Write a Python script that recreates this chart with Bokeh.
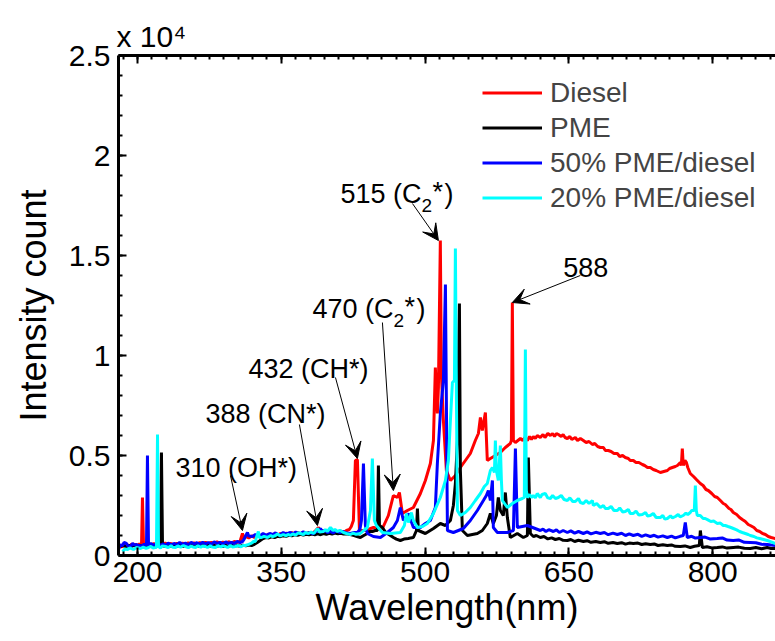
from bokeh.plotting import figure
from bokeh.models import (Range1d, FixedTicker, LinearAxis, CustomJSTickFormatter,
                          Label, Arrow, VeeHead, Legend, LegendItem)
from bokeh.embed import file_html
from bokeh.resources import INLINE

# ---------------- data (wavelength in nm, intensity in counts) ----------------
diesel_nm = [180.2, 182, 184, 186, 188, 190, 192, 194, 196, 198, 200, 202, 204.2, 205.2, 206.3,
             208, 210, 212, 214, 217, 220, 223, 226, 229, 232, 235, 238, 241, 244, 247, 250, 253,
             256, 259, 262, 265, 268, 271, 274, 277, 280, 283, 286, 289, 292, 295, 298, 301, 304,
             307, 309.5, 311, 313, 316, 319, 322, 325, 328, 331, 334, 337, 340, 343, 346, 349, 352,
             355, 358, 361, 364, 367, 370, 373, 376, 379, 382, 385, 388.7, 391, 394, 397, 400, 403,
             406, 409, 412, 415, 418, 421, 423, 425.2, 427.3, 429.4, 431.5, 437.7, 446.1, 455.5,
             461.7, 466.9, 471.1, 473.2, 476.3, 481.5, 487.8, 495.1, 500.3, 505.5, 508.7, 510.7,
             512.8, 513.9, 515.9, 517.0, 519.1, 522.2, 526.4, 531.6, 536.8, 542.0, 547.2, 552.4,
             555.6, 557.7, 559.7, 562.9, 564.9, 568.1, 573.3, 578.5, 583.7, 588.9, 590.0, 591.0,
             592.1, 594.2, 599.4, 602, 604, 606.7, 609, 611, 612.9, 615, 617, 620.2, 623, 625, 628,
             630.7, 633, 635, 637, 639, 642, 644, 646, 648.4, 651, 653, 656.7, 659, 662, 665.1, 668,
             671, 674.5, 677, 680, 682.8, 686, 688, 691.1, 694, 697, 700.5, 703, 706, 708.8, 712,
             714, 717.2, 720, 723, 726.6, 729, 732, 734.9, 738, 741, 745.4, 749, 752.7, 755, 757.9,
             761, 763.2, 766.2, 767.3, 768.3, 769.3, 771, 772.5, 774, 776.6, 780, 783, 787.1, 790,
             793, 795.4, 799, 802, 804.8, 808, 811, 813.1, 817, 819, 821.5, 825, 828, 830.9, 834,
             837, 839.2, 843, 846, 849, 852, 855, 858, 861, 865.3]
diesel_counts = [350, 500, 420, 560, 450, 530, 470, 580, 480, 560, 500, 580, 500, 2900, 520,
                 560, 480, 590, 520, 600, 500, 580, 520, 620, 540, 600, 520, 610, 540, 620, 560, 640,
                 560, 630, 570, 650, 580, 660, 590, 650, 600, 680, 600, 670, 610, 690, 620, 700, 650,
                 720, 1100, 850, 950, 880, 980, 900, 1000, 920, 1050, 960, 1080, 980, 1060, 990, 1100, 1010,
                 1120, 1040, 1150, 1060, 1160, 1080, 1150, 1070, 1160, 1090, 1200, 1400, 1200, 1250, 1150, 1230, 1150,
                 1240, 1160, 1230, 1140, 1250, 1300, 1450, 1750, 4750, 4800, 1250, 1250, 1400, 1350,
                 2000, 3000, 2900, 3150, 2100, 2250, 2400, 3100, 3750, 4600, 5750, 9400,
                 7100, 8400, 15750, 9000, 6750, 4250, 3750, 4000, 4400, 4750, 5100, 5750,
                 6100, 6900, 6250, 7150, 4750, 4850, 5000, 5150, 5400, 5600, 5750, 12650,
                 5750, 5650, 5850, 5750, 5900, 5750, 5950, 5800, 5950, 5850, 6000, 5900, 6050, 5900, 6100,
                 6000, 6100, 5950, 6100, 6050, 5950, 6050, 5900, 5850, 5950, 5800, 5900, 5750, 5850, 5750, 5650,
                 5700, 5550, 5600, 5450, 5400, 5400, 5250, 5250, 5200, 5100, 5100, 4950, 5000, 4900, 4850,
                 4750, 4750, 4650, 4650, 4550, 4500, 4400, 4400, 4300, 4250, 4150, 4200, 4250, 4350, 4400,
                 4450, 4500, 4650, 4500, 5350, 4500, 4750, 4650, 4400, 4100, 3950, 3800, 3600, 3500,
                 3300, 3250, 3100, 2950, 2900, 2750, 2600, 2550, 2350, 2300, 2150, 2050, 1900, 1800, 1700,
                 1550, 1500, 1400, 1250, 1200, 1100, 1050, 950, 900, 850]

pme_nm = [182.3, 185, 188, 191, 194, 197, 200, 203, 206, 209, 212, 215, 218, 221, 224, 225, 226.1,
          229, 232, 235, 238, 241, 244, 247, 250, 253, 256, 259, 262, 265, 268, 271, 274, 277, 280,
          283, 286, 289, 292, 295, 298, 301, 304, 307, 310, 313, 316, 319, 322, 325, 328, 331, 334,
          337, 340, 343, 346, 349, 352, 355, 358, 361, 364, 367, 370, 373, 376, 379, 382, 385, 388,
          391, 394, 397, 400, 403, 406, 409, 412, 415, 418, 422, 426, 429, 432.5, 436, 439.8, 442,
          445, 448, 450.3, 451.3, 452.4, 455.5, 459, 463.8, 467, 470, 474.2, 478, 482.6, 485, 487.8,
          491.0, 492.0, 493.0, 500.3, 508.7, 515.9, 521.2, 526.4, 529.5, 531.6, 533.7, 535.8, 536.8,
          538.9, 544.1, 549.3, 554.5, 559.7, 564.9, 568.1, 571.2, 574.4, 576.4, 578.5, 581.6, 583.7,
          585.8, 588.9, 596.2, 602.5, 606.7, 607.7, 609.8, 613, 616, 620.2, 624, 628, 632, 635.9,
          640, 644, 648.4, 652, 656, 660, 665.1, 669, 673, 678, 682.8, 687, 691, 696, 700.5, 705,
          709, 713, 717.2, 722, 726, 730, 734.9, 739, 743, 748, 752.7, 757, 761, 766.2, 771, 776.6,
          781, 786.0, 787.1, 789.2, 794, 799, 804.8, 810, 815, 821.5, 827, 833, 839.2, 845, 851,
          856.9, 861, 865.3]
pme_counts = [450, 520, 440, 510, 450, 520, 460, 510, 450, 520, 460, 510, 450, 520, 480, 5150, 500,
              440, 510, 450, 500, 440, 510, 450, 500, 440, 510, 460, 500, 450, 510, 460, 500, 450, 510,
              460, 510, 450, 500, 460, 510, 470, 500, 460, 520, 480, 520, 500, 560, 650, 750, 850, 900,
              880, 930, 900, 960, 940, 990, 960, 1010, 980, 1040, 1010, 1060, 1020, 1060, 1030, 1070, 1040, 1080,
              1040, 1100, 1060, 1110, 1070, 1120, 1080, 1110, 1070, 1090, 1050, 1000, 950, 900, 1000, 1100, 1200,
              1200, 1250, 1250, 4500, 1500, 1400, 1150, 1000, 900, 820, 750, 820, 850, 880, 900,
              1250, 2350, 1250, 1100, 1350, 1600, 1500, 1750, 2500, 3600, 5750, 12600, 4250,
              1250, 1000, 1050, 1100, 1250, 1600, 2100, 1600, 2000, 2900, 2250, 2000, 3150,
              1900, 900, 1100, 900, 1000, 4900, 1100, 950, 1000, 900, 950, 830, 880, 800,
              850, 760, 750, 800, 700, 760, 700, 740, 660, 700, 650, 690, 610, 650, 600, 640,
              570, 620, 600, 620, 550, 590, 550, 580, 500, 540, 500, 530, 460, 450, 480, 400,
              460, 500, 1250, 400, 440, 380, 400, 430, 370, 400, 420, 360, 350, 400, 340,
              400, 350, 350]

blend50_nm = [180.2, 182, 184.4, 186, 188.5, 190, 192.7, 195, 197, 199, 202, 205.2, 207, 209.4,
              210.4, 211.5, 214, 216, 218.8, 221, 224, 227, 229.2, 232, 235, 238, 241, 244, 247, 250,
              253, 256, 259, 262, 265, 268, 271, 274, 277, 280, 283, 286, 289, 292, 295, 298, 301, 304,
              307, 309.5, 311, 313, 314.7, 316, 319.9, 323, 326, 328.3, 331, 334, 338.7, 341, 344, 347,
              349.1, 352, 355, 359.5, 362, 365, 368, 370, 373, 376, 380.4, 383, 386, 389, 390.8, 393,
              396, 398, 401.3, 404, 407, 411.7, 414, 418, 422.1, 426, 429.4, 432, 433.6, 435.7, 437.7,
              439.8, 446.1, 453.4, 460.7, 466.9, 471.1, 474.2, 477.4, 482.6, 487.8, 495.1, 500.3, 505.5,
              510.7, 512.8, 515.9, 519.1, 521.2, 522.2, 523.3, 529.5, 534.7, 539.9, 547.2, 554.5,
              560.8, 563.9, 566.0, 568.1, 570.2, 571.2, 575.4, 585.8, 592.1, 594.2, 596.2, 606.7,
              620.2, 623, 626, 629, 633.8, 637, 640, 644, 648.4, 652, 656, 660, 665.1, 669, 673, 678,
              682.8, 687, 691, 696, 700.5, 705, 709, 713, 717.2, 722, 726, 730, 734.9, 739, 743, 748,
              752.7, 757, 761, 766, 769.3, 771.4, 773.5, 778, 782, 787.1, 792, 797, 804.8, 810, 815,
              821.5, 827, 833, 839.2, 845, 851, 856.9, 861, 865.3]
blend50_counts = [300, 520, 500, 650, 600, 480, 450, 600, 520, 550, 480, 500, 560, 500,
                  5000, 500, 600, 520, 550, 620, 500, 580, 500, 620, 530, 600, 540, 650, 560, 620,
                  540, 660, 570, 640, 560, 660, 580, 650, 560, 680, 600, 660, 580, 680, 600, 660, 600, 700,
                  650, 700, 800, 1000, 1150, 980, 950, 1050, 980, 1000, 1100, 1020, 1100, 1050, 1130, 1040,
                  1050, 1150, 1080, 1150, 1080, 1170, 1100, 1100, 1180, 1100, 1150, 1080, 1200, 1250, 1350, 1200,
                  1250, 1150, 1200, 1130, 1220, 1150, 1200, 1120, 1100, 1150, 1150, 1300, 1750, 4600, 1500,
                  1100, 950, 900, 1150, 1400, 1750, 2400, 1750, 2100, 1400, 1400, 1600, 1750,
                  2400, 4600, 7100, 8750, 13550, 7750, 1250, 1150, 1250, 1350, 1750, 2250,
                  2750, 3000, 3250, 2750, 3750, 1400, 1150, 1150, 1250, 5350, 1400, 1500,
                  1250, 1320, 1200, 1290, 1200, 1280, 1150, 1250, 1150, 1230, 1120, 1200, 1100, 1180, 1080, 1160,
                  1100, 1150, 1040, 1120, 1050, 1110, 1000, 1080, 1000, 1060, 960, 1030, 950, 1010, 920, 980,
                  900, 970, 880, 960, 1000, 1650, 900, 960, 870, 900, 920, 830, 850, 880, 770,
                  750, 780, 660, 650, 640, 560, 550, 520, 500]

blend20_nm = [184.4, 187, 189.6, 192, 195.8, 199, 203.1, 206, 209, 211.5, 214, 216, 218.8, 219.8,
              220.9, 221.9, 224, 226, 229.2, 232, 235, 237, 239.6, 242, 245, 248, 250.1, 253, 256, 258,
              260.5, 263, 266, 268, 270.9, 273, 276, 278, 281.3, 284, 287, 289, 291.8, 294, 297, 299,
              302.2, 305, 308, 310, 312.6, 316, 319, 321, 323, 324, 326.1, 327, 329.3, 332, 335.6, 339,
              341, 343.9, 346, 349, 352.2, 355, 357, 359.5, 362, 365, 368, 370, 373, 375, 378.3, 381,
              384, 387.7, 390, 393.9, 396, 398, 401.3, 404, 406, 408.6, 411, 414.8, 418, 422.1, 425,
              428, 432.5, 436, 439.8, 443.0, 445.0, 447.1, 449.2, 455.5, 463.8, 474.2, 478.4, 480.5,
              482.6, 485.7, 487.8, 492.0, 497.2, 502.4, 508.7, 515.9, 521.2, 524.3, 526.4, 528.5, 530.6,
              531.6, 532.7, 533.7, 536.8, 542.0, 547.2, 552.4, 557.7, 561.8, 564.9, 568.1, 570.2, 572.3,
              573.3, 574.4, 576.4, 578.5, 579.6, 580.6, 585.8, 591.0, 596.2, 601.4, 603.5, 604.6, 605.6,
              606.7, 609, 611, 612.9, 615, 617, 620.2, 622, 625.4, 628, 630.7, 633, 636, 639, 642, 645,
              648.4, 651, 654, 656.7, 660, 662, 665.1, 668, 671, 674.5, 675.5, 679, 682.8, 686, 688,
              691.1, 694, 697, 700.5, 703, 706, 708.8, 712, 714, 717.2, 720, 723, 726.6, 730, 732,
              734.9, 738, 741, 745.4, 748, 750, 752.7, 756, 758, 761.1, 764, 766, 769.3, 772, 774,
              776.6, 778, 780.8, 781.9, 782.9, 783.9, 787, 790, 792.2, 795, 798, 801, 804.8, 808, 811,
              813.1, 816, 819, 821.5, 825, 828, 830.9, 834, 837, 839.2, 843, 846, 849, 853, 856.9, 861,
              865.3]
blend20_counts = [200, 330, 300, 380, 300, 400, 350, 420, 360, 400, 460, 380, 400, 400,
                  6050, 450, 380, 480, 450, 400, 490, 410, 400, 480, 420, 500, 450, 390, 480, 420,
                  400, 490, 410, 470, 450, 400, 490, 420, 400, 490, 430, 480, 450, 400, 500, 430,
                  450, 500, 430, 500, 500, 560, 620, 700, 700, 900, 1200, 900, 900, 960, 900, 1000,
                  940, 1000, 1080, 980, 1050, 980, 1060, 1000, 1080, 1020, 1140, 1100, 1040, 1150, 1100, 1170,
                  1100, 1350, 1180, 1200, 1300, 1200, 1400, 1250, 1300, 1200, 1260, 1150, 1100, 1050, 1120,
                  1060, 1100, 1250, 1400, 2250, 4850, 1750, 1500, 1150, 1100, 1150, 1500, 2100,
                  1650, 2150, 1750, 1400, 1450, 1600, 2100, 2900, 3750, 4750, 6750, 8650, 8750,
                  15350, 7750, 2250, 2000, 2150, 2400, 2750, 3100, 3450, 3600, 4250, 4400, 4150,
                  5750, 4250, 3750, 5500, 3750, 2750, 2400, 2600, 2750, 2850, 2900, 10300, 3250,
                  2900, 3050, 2900, 3000, 2880, 3100, 2900, 3050, 3100, 2880, 2850, 3000, 2850, 2900, 3000, 2800,
                  2750, 2880, 2700, 2700, 2850, 2650, 2600, 2750, 2600, 2750, 2500, 2600, 2400, 2500, 2350,
                  2350, 2450, 2250, 2250, 2380, 2180, 2200, 2300, 2100, 2100, 2220, 2020, 2050, 2150, 1980,
                  2000, 2100, 1900, 1900, 2000, 1820, 1850, 1980, 1880, 1950, 2050, 1930, 2000, 2120, 2050,
                  2150, 2250, 2250, 3500, 2250, 2000, 2000, 1850, 1850, 1780, 1700, 1720, 1600, 1620, 1500,
                  1500, 1450, 1400, 1350, 1280, 1200, 1150, 1100, 1050, 1000, 950, 880, 850, 800, 750, 680,
                  600]

series_names = ["Diesel", "PME", "50% PME/diesel", "20% PME/diesel"]
series_colors = ["#ff0000", "#000000", "#0000ff", "#00ffff"]

x_ticks = [200, 350, 500, 650, 800]
y_ticks = [0, 5000, 10000, 15000, 20000, 25000]

# annotation texts: (main text, has C2* suffix, x, y baseline)
annot_texts = [("515 (C", True, 411.7, 18100),
               ("588", False, 644.2, 14400),
               ("470 (C", True, 382.5, 12350),
               ("432 (CH*)", False, 315.7, 9350),
               ("388 (CN*)", False, 270.9, 7100),
               ("310 (OH*)", False, 239.6, 4400)]
annot_arrows = [(486.8, 17600, 513.9, 15750),
                (661.9, 14000, 591.0, 12650),
                (455.5, 11650, 466.9, 3250),
                (406.5, 8900, 429.4, 4850),
                (368.9, 6550, 387.7, 1500),
                (297.0, 4000, 309.5, 1250)]

FONT = "Liberation Sans"

p = figure(width=775, height=641, output_backend="svg", toolbar_location=None,
           x_range=Range1d(180.2, 865.5), y_range=Range1d(0, 25000),
           min_border_left=118, min_border_right=0, min_border_top=55, min_border_bottom=86)
p.grid.visible = False
p.outline_line_color = None
p.background_fill_color = "white"
p.border_fill_color = "white"

p.title.text = "x 10\u2074"
p.title.align = "left"
p.title.text_font = FONT
p.title.text_font_size = "30px"
p.title.text_font_style = "normal"
p.title.text_color = "black"
p.title.offset = -2
p.title.standoff = 6

xb = p.xaxis[0]
yl = p.yaxis[0]

renderers = []
for xs, ys, col in [(diesel_nm, diesel_counts, series_colors[0]),
                    (pme_nm, pme_counts, series_colors[1]),
                    (blend50_nm, blend50_counts, series_colors[2]),
                    (blend20_nm, blend20_counts, series_colors[3])]:
    renderers.append(p.line(xs, ys, line_color=col, line_width=3))

# axes
xb.ticker = FixedTicker(ticks=x_ticks, minor_ticks=list(range(185, 866, 15)))
yl.ticker = FixedTicker(ticks=y_ticks, minor_ticks=list(range(0, 25001, 1000)))
yl.formatter = CustomJSTickFormatter(code="return (tick/10000).toString();")

top = LinearAxis(ticker=FixedTicker(ticks=x_ticks, minor_ticks=list(range(185, 866, 15))),
                 formatter=CustomJSTickFormatter(code="return '';"),
                 major_label_text_font_size="1px", major_label_standoff=0)
p.add_layout(top, "above")

for ax in [xb, yl, top]:
    ax.axis_line_width = 3
    ax.axis_line_color = "black"
    ax.major_tick_in = 8
    ax.major_tick_out = 0
    ax.minor_tick_in = 4
    ax.minor_tick_out = 0
    ax.major_tick_line_width = 2
    ax.minor_tick_line_width = 2
    ax.major_tick_line_color = "black"
    ax.minor_tick_line_color = "black"
for ax in [xb, yl]:
    ax.major_label_text_font = FONT
    ax.major_label_text_font_size = "30px"
    ax.major_label_text_color = "black"
    ax.axis_label_text_font = FONT
    ax.axis_label_text_font_size = "36px"
    ax.axis_label_text_font_style = "normal"
    ax.axis_label_text_color = "black"

xb.axis_label = "Wavelength(nm)"
xb.major_label_standoff = 6
xb.axis_label_standoff = 2
yl.axis_label = "Intensity count"
yl.major_label_standoff = 8
yl.axis_label_standoff = 12

# legend
legend = Legend(items=[LegendItem(label=n, renderers=[r]) for n, r in zip(series_names, renderers)],
                location=(364, 340), label_text_font=FONT, label_text_font_size="28px",
                glyph_width=60, glyph_height=35, label_height=35, spacing=0, padding=0,
                margin=0, label_standoff=8, border_line_alpha=0, background_fill_alpha=0)
p.add_layout(legend)

# annotations
for txt, c2, x, y in annot_texts:
    p.add_layout(Label(x=x, y=y, text=txt, text_font=FONT, text_font_size="27px",
                       text_baseline="alphabetic", text_color="black"))
    if c2:
        p.add_layout(Label(x=x, y=y - 600, x_offset=81, text="2", text_font=FONT,
                           text_font_size="19px", text_baseline="alphabetic", text_color="black"))
        p.add_layout(Label(x=x, y=y + 100, x_offset=92, text="*", text_font=FONT,
                           text_font_size="27px", text_baseline="alphabetic", text_color="black"))
        p.add_layout(Label(x=x, y=y, x_offset=104, text=")", text_font=FONT,
                           text_font_size="27px", text_baseline="alphabetic", text_color="black"))

for xs, ys, xe, ye in annot_arrows:
    p.add_layout(Arrow(end=VeeHead(size=16, fill_color="black", line_color="black", line_width=1),
                       x_start=xs, y_start=ys, x_end=xe, y_end=ye,
                       line_color="black", line_width=1))

open("out.html", "w").write(file_html(p, INLINE))
